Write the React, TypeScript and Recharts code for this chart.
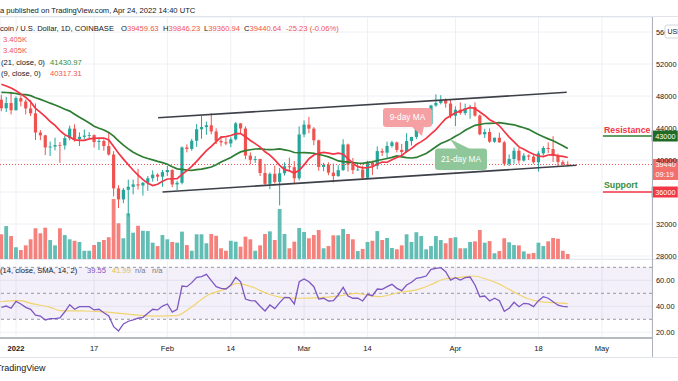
import React from 'react';
import { ComposedChart, Bar, Line, XAxis, YAxis, CartesianGrid, ReferenceLine, ReferenceArea } from 'recharts';

const FONT = '"Liberation Sans", Arial, sans-serif';
const TXT = '#131722';
const UP = '#26a69a';
const DOWN = '#ef5350';

// Day index relative to Jan 1, 2022 of the first candle (Dec 29, 2021)
const FIRST_DAY = -3;

const opens = [
  47545, 46464, 47120, 46216, 47738, 47311, 46445, 45833, 43432, 43083,
  41567, 41681, 41865, 41822, 42736, 43921, 42592, 42900, 43050, 43114,
  42250, 42374, 41744, 40681, 36458, 35075, 36276, 36654, 36954, 36814,
  37160, 37716, 38166, 37917, 38484, 38744, 36944, 37149, 41571, 41383,
  42406, 43841, 44118, 44339, 43566, 42388, 42210, 42067, 42586, 44578,
  43937, 40552, 40017, 40126, 38376, 37023, 38270, 37264, 38338, 39218,
  39105, 37714, 43194, 44422, 43924, 42462, 39139, 39401, 38420, 37989,
  38731, 41942, 39422, 38730, 38808, 37777, 39672, 39282, 41114, 40917,
  41757, 42201, 41262, 41002, 42364, 42882, 43960, 44348, 44500, 46820,
  47128, 47465, 47062, 45538, 46281, 45868, 46453, 46622, 45555, 43207,
  43503, 42287, 42782, 42207, 39521, 40127, 41166, 39935, 40553, 40424,
  39716, 40826, 41502, 41374, 40527, 39741, 39459.63,
];
const highs = [
  48139, 47900, 48550, 47950, 47990, 47570, 47500, 47070, 43750, 43150,
  42300, 42800, 42250, 43000, 44300, 44450, 43450, 43800, 43480, 43200,
  42700, 42580, 43500, 41100, 36850, 36500, 37550, 37550, 38900, 37250,
  38000, 38700, 38350, 38750, 39250, 38850, 37400, 41700, 41950, 42650,
  44500, 45500, 44800, 45850, 43950, 43000, 42750, 42850, 44750, 44600,
  44200, 40950, 40500, 40150, 39500, 38450, 39300, 39000, 39700, 40300,
  39850, 44200, 44950, 45400, 44100, 42550, 39650, 39700, 39550, 39350,
  42600, 42050, 40250, 39400, 39300, 39900, 39900, 41700, 41450, 42300,
  42400, 42300, 42000, 43350, 42900, 44200, 45100, 44800, 46900, 48200,
  48100, 47700, 47600, 46700, 47200, 47050, 46900, 47200, 45700, 43900,
  43950, 42800, 43400, 42400, 40700, 41550, 41500, 40850, 40700, 40600,
  41100, 41750, 42200, 42976, 40800, 39980, 39846.23,
];
const lows = [
  46096, 46000, 45700, 46216, 46700, 45700, 45500, 42500, 42480, 40610,
  40500, 41200, 39650, 41300, 42450, 42300, 41750, 42600, 42700, 41550,
  41250, 41150, 40550, 35450, 34000, 34600, 32930, 35700, 36300, 35550,
  36150, 37300, 37350, 36650, 38000, 36600, 36250, 36950, 40950, 41150,
  41650, 42650, 43150, 43200, 42000, 41700, 41850, 41600, 42450, 43350,
  40100, 39450, 39650, 38000, 36800, 36350, 37050, 34320, 38050, 38600,
  37000, 37450, 42850, 43350, 41850, 38650, 38600, 38100, 37200, 37900,
  38650, 38550, 38250, 38650, 37600, 37600, 38100, 38850, 40500, 40150,
  41550, 40950, 40500, 40900, 41800, 42600, 43600, 44100, 44400, 46650,
  46950, 46550, 45200, 44250, 45650, 45600, 45150, 45400, 43100, 42750,
  42150, 42150, 42150, 39250, 39250, 39550, 39550, 39800, 40000, 39550,
  38550, 40550, 40850, 39750, 39200, 39300, 39360.94,
];
const closes = [
  46464, 47120, 46216, 47738, 47311, 46445, 45833, 43432, 43083, 41567,
  41681, 41865, 41822, 42736, 43921, 42592, 42900, 43050, 43114, 42250,
  42374, 41744, 40681, 36458, 35075, 36276, 36654, 36954, 36814, 37160,
  37716, 38166, 37917, 38484, 38744, 36944, 37149, 41571, 41383, 42406,
  43841, 44118, 44339, 43566, 42388, 42210, 42067, 42586, 44578, 43937,
  40552, 40017, 40126, 38376, 37023, 38270, 37264, 38338, 39218, 39105,
  37714, 43194, 44422, 43924, 42462, 39139, 39401, 38420, 37989, 38731,
  41942, 39422, 38730, 38808, 37777, 39672, 39282, 41114, 40917, 41757,
  42201, 41262, 41002, 42364, 42882, 43960, 44348, 44500, 46820, 47128,
  47465, 47062, 45538, 46281, 45868, 46453, 46622, 45555, 43207, 43503,
  42287, 42782, 42207, 39521, 40127, 41166, 39935, 40553, 40424, 39716,
  40826, 41502, 41374, 40527, 39741, 39466, 39440.64,
];
// volume, thousands of BTC
const volumes = [
  16.8, 22.4, 15.6, 8.0, 6.1, 9.3, 13.4, 20.9, 17.5, 21.3,
  12.9, 9.3, 20.9, 16.3, 13.4, 12.4, 11.6, 5.6, 5.6, 9.5,
  11.6, 12.9, 14.8, 40.8, 24.3, 14.1, 31.1, 17.9, 22.6, 19.2,
  19.0, 11.1, 8.8, 16.3, 13.4, 11.6, 11.1, 18.6, 9.5, 5.6,
  16.8, 16.8, 10.7, 17.0, 15.8, 7.3, 5.6, 12.4, 11.8, 8.4,
  15.2, 13.4, 5.6, 9.3, 17.0, 18.8, 12.9, 34.0, 17.0, 7.3,
  11.8, 21.1, 18.4, 14.1, 16.3, 19.7, 7.3, 8.8, 16.1, 16.1,
  20.4, 17.0, 13.4, 5.4, 6.8, 11.6, 12.4, 19.0, 12.9, 14.3,
  7.5, 6.6, 9.3, 16.8, 11.6, 18.2, 15.6, 6.6, 8.8, 15.6,
  12.9, 10.7, 14.3, 14.8, 7.3, 7.3, 11.6, 12.0, 19.7, 11.1,
  12.2, 3.9, 5.4, 14.1, 11.4, 9.5, 9.3, 5.2, 3.6, 4.1,
  11.1, 8.8, 12.0, 14.3, 13.8, 5.6, 3.405,
];
const ma9 = [
  49463, 49260, 48993, 48650, 48260, 47818, 47266, 46456, 45960, 45416,
  44812, 44328, 43671, 43163, 42882, 42522, 42463, 42459, 42631, 42694,
  42751, 42742, 42514, 41685, 40850, 40114, 39403, 38718, 38114, 37535,
  37088, 36808, 36970, 37349, 37623, 37655, 37677, 38206, 38675, 39196,
  39827, 40516, 41166, 41702, 42307, 42869, 42924, 43058, 43299, 43310,
  42914, 42433, 42051, 41605, 41029, 40607, 40016, 39323, 38798, 38637,
  38382, 38722, 39394, 40161, 40627, 40835, 40953, 40865, 40741, 40854,
  40714, 40159, 39582, 39176, 39024, 39055, 39150, 39498, 39740, 39720,
  40029, 40310, 40554, 41063, 41420, 41940, 42299, 42697, 43260, 43807,
  44497, 45170, 45523, 45900, 46112, 46346, 46582, 46441, 46006, 45565,
  45035, 44729, 44276, 43571, 42868, 42262, 41637, 41342, 41000, 40715,
  40497, 40419, 40625, 40669, 40511, 40459, 40317.31,
];
const ma21 = [
  48464, 48439, 48395, 48316, 48184, 48171, 48050, 47790, 47572, 47351,
  47104, 46874, 46633, 46337, 46113, 45721, 45344, 44992, 44626, 44223,
  43977, 43752, 43446, 42981, 42378, 41852, 41386, 40963, 40648, 40366,
  40183, 40015, 39827, 39668, 39478, 39146, 38887, 38824, 38744, 38710,
  38786, 38869, 38993, 39130, 39413, 39752, 40028, 40311, 40674, 41013,
  41174, 41284, 41377, 41399, 41330, 41307, 41322, 41379, 41267, 41158,
  40935, 40904, 40919, 40899, 40846, 40692, 40558, 40384, 40165, 39887,
  39792, 39738, 39677, 39614, 39585, 39712, 39760, 39943, 40066, 40187,
  40334, 40503, 40399, 40301, 40251, 40322, 40571, 40814, 41213, 41648,
  42064, 42308, 42599, 42959, 43295, 43708, 44039, 44338, 44438, 44561,
  44586, 44614, 44659, 44588, 44482, 44400, 44208, 44028, 43834, 43495,
  43195, 42911, 42640, 42402, 42090, 41785, 41430.97,
];
const rsi = [
  39.2, 40.2, 38.5, 43.8, 41.8, 39.2, 37.7, 33.1, 32.5, 29.5,
  30.5, 30.5, 31, 35.8, 41.2, 37.7, 39.7, 39.7, 39.7, 37.2,
  37.7, 35, 32.5, 24.3, 21, 26.4, 28.5, 29.5, 30.8, 31.5,
  34.6, 37.7, 37.2, 40.2, 41.8, 35.6, 37.7, 55.6, 55.1, 58.2,
  62.3, 62.8, 64.6, 59.7, 55.1, 53.8, 53.3, 56.4, 62.3, 58.9,
  45.6, 44.3, 44.1, 40, 36.4, 41, 38.2, 42.8, 46.9, 46.6,
  41.8, 58.9, 61, 58.9, 55.1, 45.6, 46.2, 44.1, 44.3, 48.7,
  54.6, 47.9, 46.2, 46.2, 44.1, 49.2, 48.2, 53.3, 53.1, 55.1,
  56.9, 53.8, 52, 56.4, 58.5, 61.5, 62.3, 63.3, 68.5, 69.2,
  69.7, 66.6, 60.2, 62, 60.2, 62, 62.5, 56.4, 47.4, 47.9,
  44.1, 46.2, 44.3, 36.2, 38.5, 43.1, 39.7, 42.3, 41.8, 39.7,
  44.3, 47.4, 46.2, 43.5, 40.8, 40, 39.55,
];
// RSI-based moving average, sampled points [day, value]
const rsiMaPoints: [number, number][] = [
  [-3.2, 43.5], [0.8, 44.3], [3.5, 41.8], [7, 39.2], [9, 36.7], [13.8, 36.4],
  [17.2, 35.9], [21.3, 34.6], [25.4, 33], [28.8, 32.5], [32.9, 32.8], [35.6, 38.5],
  [39, 48], [43.1, 53.8], [45.2, 57.7], [48.6, 54.6], [51.3, 50], [54.7, 46.7],
  [58.2, 46.2], [62.3, 46.7], [66.3, 48], [69.8, 50], [71.8, 48.7], [74.5, 47.4],
  [78.6, 50.8], [82, 52.6], [84.8, 56.4], [87.5, 60.8], [90.2, 62], [93.6, 63.3],
  [96.4, 60.8], [99.1, 56.9], [101.8, 51.3], [104.6, 46.2], [107.3, 43.6], [110, 42.8],
  [113, 41.99],
];

const dateTicks = [0, 16, 31, 44, 59, 72, 90, 107, 120];
const dateTickLabels = ['2022', '17', 'Feb', '14', 'Mar', '14', 'Apr', '18', 'May'];
const priceTicks = [28000, 32000, 36000, 40000, 44000, 48000, 52000, 56000];
const coveredPriceTicks = [36000];
const rsiTicks = [20, 40, 60];
const rsiBands = [70, 50, 30];

const channelUpper = [{ x: 29.1, y: 45290 }, { x: 112.8, y: 48460 }];
const channelLower = [{ x: 30.0, y: 36000 }, { x: 114.8, y: 39340 }];
const resistanceLevel = 43000;
const supportLevel = 36000;
const lastPrice = 39440.64;
const levelStartDay = 120.2;
const levelEndDay = 130.2;

const X_DOMAIN: [number, number] = [-3.277, 130.25];

const rows = opens.map((open, i) => ({
  day: FIRST_DAY + i,
  open,
  high: highs[i],
  low: lows[i],
  close: closes[i],
  range: [lows[i], highs[i]],
  volume: volumes[i],
  ma9: ma9[i],
  ma21: ma21[i],
  rsi: rsi[i],
}));
const rsiMaRows = rsiMaPoints.map(([day, v]) => ({ day, v }));

const CandleShape = (props: any) => {
  const { x, y, width, height, payload } = props;
  if (payload == null || x == null || y == null) return null;
  const cx = x + width / 2;
  const top = Math.min(y, y + height);
  const h = Math.abs(height);
  const span = payload.high - payload.low || 1;
  const py = (v: number) => top + ((payload.high - v) / span) * h;
  const up = payload.close >= payload.open;
  const color = up ? UP : DOWN;
  const bTop = py(Math.max(payload.open, payload.close));
  const bBot = py(Math.min(payload.open, payload.close));
  return (
    <g>
      <line x1={cx} x2={cx} y1={top} y2={top + h} stroke={color} strokeWidth={1} />
      <rect x={cx - 1.6} y={bTop} width={3.2} height={Math.max(0.8, bBot - bTop)} fill={color} />
    </g>
  );
};

const VolumeShape = (props: any) => {
  const { x, y, width, height, payload } = props;
  if (payload == null || x == null) return null;
  const cx = x + width / 2;
  const up = payload.close >= payload.open;
  return <rect x={cx - 1.9} y={y} width={3.8} height={Math.max(0, height)} fill={up ? '#62beb4' : '#f5817d'} />;
};

const PriceTag = (props: any) => {
  const { viewBox, tagFill, tagLines } = props;
  if (!viewBox) return null;
  const x = viewBox.x + viewBox.width;
  const y = viewBox.y;
  const h = 11 + (tagLines.length - 1) * 10;
  return (
    <g>
      <rect x={x} y={y - 5.5} width={26} height={h} fill={tagFill} />
      {tagLines.map((t: string, i: number) => (
        <text key={i} x={x + 3.5} y={y + 2.7 + i * 10} fill="#fff" fontSize={7.3} fontFamily={FONT}>
          {t}
        </text>
      ))}
    </g>
  );
};

const PriceTick = (props: any) => {
  const { x, y, payload } = props;
  if (coveredPriceTicks.includes(payload.value)) return null;
  return (
    <text x={x} y={y} dy={2.6} textAnchor="start" fontSize={7.4} fontFamily={FONT} fill={TXT}>
      {payload.value}
    </text>
  );
};

const DateTick = (props: any) => {
  const { x, y, payload } = props;
  const i = dateTicks.indexOf(payload.value);
  const label = i >= 0 ? dateTickLabels[i] : '';
  return (
    <text x={x} y={y} dy={12.8} textAnchor="middle" fontSize={7.6} fontFamily={FONT} fill={TXT} fontWeight={label === '2022' ? 700 : 400}>
      {label}
    </text>
  );
};

const RsiTick = (props: any) => {
  const { x, y, payload } = props;
  return (
    <text x={x} y={y} dy={2.6} textAnchor="start" fontSize={7.4} fontFamily={FONT} fill={TXT}>
      {Number(payload.value).toFixed(2)}
    </text>
  );
};

export default function App() {
  return (
    <div style={{ position: 'absolute', left: 0, top: 0, width: 678, height: 381, overflow: 'hidden', background: '#fff', fontFamily: FONT }}>
      {/* separators */}
      <div style={{ position: 'absolute', left: 0, top: 16, width: 678, height: 1, background: '#e0e3eb' }} />
      <div style={{ position: 'absolute', left: 0, top: 258.5, width: 678, height: 1, background: '#e0e3eb' }} />
      <div style={{ position: 'absolute', left: 0, top: 356.5, width: 678, height: 1, background: '#e0e3eb' }} />

      <div style={{ position: 'absolute', left: 0, top: 17 }}>
        <ComposedChart width={678} height={242} data={rows} margin={{ top: 0, right: 0, bottom: 0, left: 0 }}>
          <XAxis xAxisId="g" type="number" dataKey="day" domain={X_DOMAIN} ticks={dateTicks} interval={0} hide allowDataOverflow />
          <XAxis xAxisId="p" type="number" dataKey="day" domain={X_DOMAIN} hide allowDataOverflow />
          <XAxis xAxisId="v" type="number" dataKey="day" domain={X_DOMAIN} hide allowDataOverflow />
          <YAxis yAxisId="p" orientation="right" width={26} domain={[27625, 57875]} ticks={priceTicks} interval={0} allowDataOverflow tickLine={false} axisLine={false} tickSize={0} tickMargin={4} tick={(p: any) => <PriceTick {...p} />} />
          <YAxis yAxisId="v" hide domain={[0, 164.6]} allowDataOverflow />
          <CartesianGrid xAxisId="g" yAxisId="p" stroke="#edf0f5" />
          <Bar xAxisId="v" yAxisId="v" dataKey="volume" barSize={4.8} shape={(p: any) => <VolumeShape {...p} />} isAnimationActive={false} />
          <ReferenceLine xAxisId="p" yAxisId="p" segment={channelUpper} stroke="#3d4048" strokeWidth={1.6} />
          <ReferenceLine xAxisId="p" yAxisId="p" segment={channelLower} stroke="#3d4048" strokeWidth={1.6} />
          <ReferenceLine xAxisId="p" yAxisId="p" y={lastPrice} stroke="#ef5350" strokeDasharray="1 2" strokeWidth={1}
            label={<PriceTag tagFill="#f26f6c" tagLines={['39440', '09:19']} />} />
          <Bar xAxisId="p" yAxisId="p" dataKey="range" barSize={4.8} shape={(p: any) => <CandleShape {...p} />} isAnimationActive={false} />
          <Line xAxisId="p" yAxisId="p" dataKey="ma21" stroke="#2e7d32" strokeWidth={1.7} dot={false} activeDot={false} type="linear" isAnimationActive={false} />
          <Line xAxisId="p" yAxisId="p" dataKey="ma9" stroke="#f23645" strokeWidth={1.7} dot={false} activeDot={false} type="linear" isAnimationActive={false} />
          <ReferenceLine xAxisId="p" yAxisId="p" segment={[{ x: levelStartDay, y: resistanceLevel }, { x: levelEndDay, y: resistanceLevel }]} stroke="#2e7d32" strokeWidth={1.5}
            label={<PriceTag tagFill="#1f6b24" tagLines={['43000']} />} />
          <ReferenceLine xAxisId="p" yAxisId="p" segment={[{ x: levelStartDay, y: supportLevel }, { x: levelEndDay, y: supportLevel }]} stroke="#f23645" strokeWidth={1.5}
            label={<PriceTag tagFill="#f23645" tagLines={['36000']} />} />
        </ComposedChart>
      </div>

      <div style={{ position: 'absolute', left: 0, top: 259 }}>
        <ComposedChart width={678} height={98} data={rows} margin={{ top: 0, right: 0, bottom: 0, left: 0 }}>
          <XAxis xAxisId="r" type="number" dataKey="day" domain={X_DOMAIN} ticks={dateTicks} interval={0} allowDataOverflow height={19}
            tickLine={false} tickSize={0} tickMargin={0} axisLine={{ stroke: '#a3a6af', strokeWidth: 1.5 }} tick={(p: any) => <DateTick {...p} />} />
          <YAxis yAxisId="r" orientation="right" width={26} domain={[15.6, 76.4]} ticks={rsiTicks} interval={0} allowDataOverflow tickLine={false} axisLine={false}
            tickSize={0} tickMargin={4} tick={(p: any) => <RsiTick {...p} />} />
          <CartesianGrid xAxisId="r" yAxisId="r" stroke="#edf0f5" />
          <ReferenceArea xAxisId="r" yAxisId="r" y1={30} y2={70} fill="#7e57c2" fillOpacity={0.09} stroke="none" />
          {rsiBands.map((b) => (
            <ReferenceLine key={b} xAxisId="r" yAxisId="r" y={b} stroke="#9598a1" strokeDasharray="3 3" strokeWidth={1} />
          ))}
          <Line xAxisId="r" yAxisId="r" data={rsiMaRows} dataKey="v" stroke="#f2d46f" strokeWidth={1.2} dot={false} activeDot={false} type="monotone" isAnimationActive={false} />
          <Line xAxisId="r" yAxisId="r" dataKey="rsi" stroke="#7e57c2" strokeWidth={1.3} dot={false} activeDot={false} type="linear" isAnimationActive={false} />
        </ComposedChart>
      </div>

      {/* price axis separator */}
      <div style={{ position: 'absolute', left: 651.5, top: 17, width: 1.5, height: 340, background: '#aeb1b9' }} />

      <svg width={678} height={381} style={{ position: 'absolute', left: 0, top: 0, pointerEvents: 'none' }} fontFamily={FONT}>
        <text x={0} y={12.7} fontSize={7.6} fill={TXT}>a published on TradingView.com, Apr 24, 2022 14:40 UTC</text>
        <text x={0} y={30.7} fontSize={7.6} fill={TXT}>coin / U.S. Dollar, 1D, COINBASE</text>
        <text x={121} y={30.7} fontSize={7.6} fill={TXT}>O<tspan fill={DOWN}>39459.63</tspan></text>
        <text x={163} y={30.7} fontSize={7.6} fill={TXT}>H<tspan fill={DOWN}>39846.23</tspan></text>
        <text x={204} y={30.7} fontSize={7.6} fill={TXT}>L<tspan fill={DOWN}>39360.94</tspan></text>
        <text x={244} y={30.7} fontSize={7.6} fill={TXT}>C<tspan fill={DOWN}>39440.64</tspan></text>
        <text x={286} y={30.7} fontSize={7.6} fill={DOWN}>-25.23 (-0.06%)</text>
        <text x={3} y={42} fontSize={7.6} fill={DOWN}>3.405K</text>
        <text x={3} y={53.4} fontSize={7.6} fill={DOWN}>3.405K</text>
        <text x={1} y={64.7} fontSize={7.6} fill={TXT}>(21, close, 0)</text>
        <text x={50} y={64.7} fontSize={7.6} fill="#388e3c">41430.97</text>
        <text x={1} y={75.9} fontSize={7.6} fill={TXT}>(9, close, 0)</text>
        <text x={50} y={75.9} fontSize={7.6} fill={DOWN}>40317.31</text>

        <text x={0} y={272.7} fontSize={7.6} fill={TXT}>(14, close, SMA, 14, 2)</text>
        <text x={87} y={272.7} fontSize={7.6} fill="#7e57c2">39.55</text>
        <text x={112} y={272.7} fontSize={7.6} fill="#e2c34a">41.99</text>
        <text x={135} y={272.7} fontSize={7.6} fill="#787b86">n/a</text>
        <text x={152} y={272.7} fontSize={7.6} fill="#787b86">n/a</text>

        <text x={-4} y={371} fontSize={9} fill={TXT}>TradingView</text>

        {/* USD badge */}
        <rect x={665} y={25} width={18} height={13} rx={2} fill="#fff" stroke="#c9ccd3" strokeWidth={0.8} />
        <text x={667.5} y={34.2} fontSize={7} fill={TXT}>USD</text>

        {/* 9-day MA callout */}
        <polygon points="411,126 424,126 422,136" fill="#f5a1a4" />
        <rect x={383} y={108} width={49} height={19} rx={3} fill="#f5a1a4" />
        <text x={407.5} y={120.3} fontSize={8.3} fill="#fff" textAnchor="middle">9-day MA</text>

        {/* 21-day MA callout */}
        <polygon points="450,139 457,149 470,149" fill="#8fc79a" />
        <rect x={435} y={148.5} width={52} height={21.5} rx={3} fill="#8fc79a" />
        <text x={461} y={162} fontSize={8.3} fill="#fff" textAnchor="middle">21-day MA</text>

        <text x={604} y={133} fontSize={8.8} fontWeight={700} fill="#f23645">Resistance</text>
        <text x={604} y={187.5} fontSize={8.8} fontWeight={700} fill="#388e3c">Support</text>
      </svg>
    </div>
  );
}
